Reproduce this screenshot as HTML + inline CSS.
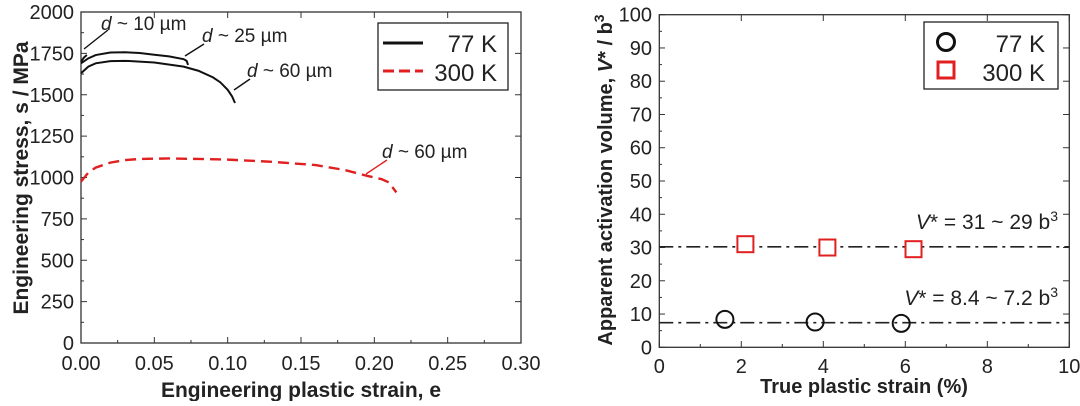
<!DOCTYPE html>
<html><head><meta charset="utf-8"><style>
body{margin:0;background:#fff;width:1080px;height:401px;overflow:hidden}
svg{font-family:"Liberation Sans",sans-serif}
</style></head><body>
<svg id="s" width="1080" height="401"></svg>
<script>
const leftTicksY=[0,250,500,750,1000,1250,1500,1750,2000];
const leftTicksX=[0,0.05,0.10,0.15,0.20,0.25,0.30];
const d10X=[0,0.002,0.004];
const d10Y=[1700,1725,1740];
const d25X=[0,0.005,0.01,0.02,0.03,0.04,0.05,0.06,0.07,0.072,0.073];
const d25Y=[1690,1720,1740,1755,1757,1752,1742,1732,1715,1705,1680];
const d60X=[0,0.005,0.01,0.02,0.03,0.05,0.07,0.08,0.09,0.095,0.1,0.103,0.105];
const d60Y=[1630,1670,1690,1703,1705,1695,1670,1645,1605,1575,1530,1490,1450];
const redX=[0,0.005,0.01,0.02,0.03,0.04,0.06,0.08,0.1,0.13,0.16,0.18,0.195,0.205,0.21,0.215];
const redY=[975,1030,1060,1090,1105,1112,1115,1112,1108,1095,1075,1045,1010,990,970,910];
const rightTicksY=[0,10,20,30,40,50,60,70,80,90,100];
const rightTicksX=[0,2,4,6,8,10];
const sqX=[2.1,4.1,6.2], sqY=[31,30,29.5];
const ciX=[1.6,3.8,5.9], ciY=[8.4,7.6,7.2];
const fitY=[30.2,7.4];

const S=document.getElementById('s');const NS='http://www.w3.org/2000/svg';
function el(t,a,txt){const e=document.createElementNS(NS,t);for(const k in a)e.setAttribute(k,a[k]);if(txt!==undefined)e.textContent=txt;S.appendChild(e);return e;}
const Lx=v=>81+v/0.30*440, Ly=v=>343-v/2000*331;
const Rx=v=>659.3+v*41, Ry=v=>347.3-v*3.326;
let e;
e=el('rect',{x:81,y:12,width:440,height:331,fill:'none',stroke:'#333','stroke-width':1.3});

leftTicksY.forEach(v=>{el('line',{x1:81,x2:87,y1:Ly(v),y2:Ly(v),stroke:'#333'});el('line',{x1:515,x2:521,y1:Ly(v),y2:Ly(v),stroke:'#333'});
 e=el('text',{x:74,y:Ly(v)+7,'text-anchor':'end','font-size':20,fill:'#222'},v);
 if(v<2000){el('line',{x1:81,x2:84,y1:Ly(v+125),y2:Ly(v+125),stroke:'#333'});}});
leftTicksX.forEach(v=>{el('line',{x1:Lx(v),x2:Lx(v),y1:343,y2:337,stroke:'#333'});el('line',{x1:Lx(v),x2:Lx(v),y1:12,y2:18,stroke:'#333'});
 if(v<0.3)el('line',{x1:Lx(v+0.025),x2:Lx(v+0.025),y1:343,y2:340,stroke:'#333'});
 e=el('text',{x:Lx(v),y:370,'text-anchor':'middle','font-size':20,fill:'#222'},v.toFixed(2));});
e=el('text',{x:0,y:0,transform:'translate(28,178) rotate(-90)','text-anchor':'middle','font-size':21,'font-weight':'bold',fill:'#222'},'Engineering stress, s / MPa');

e=el('text',{x:301,y:397,'text-anchor':'middle','font-size':21,'font-weight':'bold',fill:'#222'},'Engineering plastic strain, e');

function poly(X,Y,fx,fy,attrs,name){const p=X.map((x,i)=>fx(x)+','+fy(Y[i])).join(' ');const e=el('polyline',Object.assign({points:p,fill:'none'},attrs));}
poly(d10X,d10Y,Lx,Ly,{stroke:'#111','stroke-width':2},'curve-77k-d10');
poly(d25X,d25Y,Lx,Ly,{stroke:'#111','stroke-width':2},'curve-77k-d25');
poly(d60X,d60Y,Lx,Ly,{stroke:'#111','stroke-width':2},'curve-77k-d60');
poly(redX,redY,Lx,Ly,{stroke:'#e02020','stroke-width':2.4,'stroke-dasharray':'11,6'},'curve-300k-d60');
function ann(tx,ty,x1,y1,x2,y2,name,col){const l=el('line',{x1,y1,x2,y2,stroke:col,'stroke-width':1.4});
 const t=el('text',{x:tx,y:ty,'font-size':19,fill:'#222'});t.innerHTML='<tspan font-style="italic">d</tspan> ~ '+name.match(/\d+/)[0]+' µm';}
ann(101,30,108,30,84,49,'label-d10','#111');
ann(202,42,204,44,185,56,'label-d25','#111');
ann(247,77,250,79,234,90,'label-d60-77k','#111');
ann(382,158,387,160,366,174,'label-d60-300k','#e02020');
e=el('rect',{x:378,y:23,width:130,height:67,fill:'#fff',stroke:'#222','stroke-width':1.3});
el('line',{x1:383,x2:423,y1:43,y2:43,stroke:'#111','stroke-width':3});
el('line',{x1:383,x2:423,y1:71,y2:71,stroke:'#e02020','stroke-width':3,'stroke-dasharray':'11,5'});
e=el('text',{x:497,y:52,'text-anchor':'end','font-size':24,fill:'#222'},'77 K');
e=el('text',{x:497,y:81,'text-anchor':'end','font-size':24,fill:'#222'},'300 K');
e=el('rect',{x:659.3,y:14.7,width:410,height:332.6,fill:'none',stroke:'#333','stroke-width':1.3});
rightTicksY.forEach(v=>{el('line',{x1:659.3,x2:665,y1:Ry(v),y2:Ry(v),stroke:'#333'});el('line',{x1:1063,x2:1069.3,y1:Ry(v),y2:Ry(v),stroke:'#333'});
 if(v<100)el('line',{x1:659.3,x2:662,y1:Ry(v+5),y2:Ry(v+5),stroke:'#333'});
 e=el('text',{x:652,y:Ry(v)+7,'text-anchor':'end','font-size':20,fill:'#222'},v);});
rightTicksX.forEach(v=>{el('line',{x1:Rx(v),x2:Rx(v),y1:347.3,y2:341,stroke:'#333'});el('line',{x1:Rx(v),x2:Rx(v),y1:14.7,y2:21,stroke:'#333'});
 if(v<10)el('line',{x1:Rx(v+1),x2:Rx(v+1),y1:347.3,y2:344,stroke:'#333'});
 e=el('text',{x:Rx(v),y:373,'text-anchor':'middle','font-size':20,fill:'#222'},v);});
e=el('text',{x:0,y:0,transform:'translate(612,180) rotate(-90)','text-anchor':'middle','font-size':20,'font-weight':'bold',fill:'#222'});
e.innerHTML='Apparent activation volume, <tspan font-style="italic">V</tspan>* / b<tspan dy="-8" font-size="14">3</tspan>';

e=el('text',{x:864,y:393,'text-anchor':'middle','font-size':20,'font-weight':'bold',fill:'#222'},'True plastic strain (%)');

fitY.forEach(v=>{e=el('line',{x1:Rx(0),x2:Rx(10),y1:Ry(v),y2:Ry(v),stroke:'#222','stroke-width':1.6,'stroke-dasharray':'14,5,3,5'});});
sqX.forEach((x,i)=>{e=el('rect',{x:Rx(x)-8,y:Ry(sqY[i])-8,width:16,height:16,fill:'#fff',stroke:'#e02020','stroke-width':2});});
ciX.forEach((x,i)=>{e=el('circle',{cx:Rx(x),cy:Ry(ciY[i]),r:8.5,fill:'none',stroke:'#111','stroke-width':2});});
e=el('text',{x:1058,y:229,'text-anchor':'end','font-size':21,fill:'#222'});e.innerHTML='<tspan font-style="italic">V</tspan>* = 31 ~ 29 b<tspan dy="-8" font-size="14">3</tspan>';
e=el('text',{x:1058,y:305,'text-anchor':'end','font-size':21,fill:'#222'});e.innerHTML='<tspan font-style="italic">V</tspan>* = 8.4 ~ 7.2 b<tspan dy="-8" font-size="14">3</tspan>';
e=el('rect',{x:924,y:22,width:134,height:67,fill:'#fff',stroke:'#222','stroke-width':1.3});
el('circle',{cx:946,cy:42,r:8.5,fill:'none',stroke:'#111','stroke-width':3});
el('rect',{x:938,y:62,width:16,height:16,fill:'none',stroke:'#e02020','stroke-width':3});
e=el('text',{x:1045,y:52,'text-anchor':'end','font-size':24,fill:'#222'},'77 K');
e=el('text',{x:1045,y:81,'text-anchor':'end','font-size':24,fill:'#222'},'300 K');
</script>
</body></html>
